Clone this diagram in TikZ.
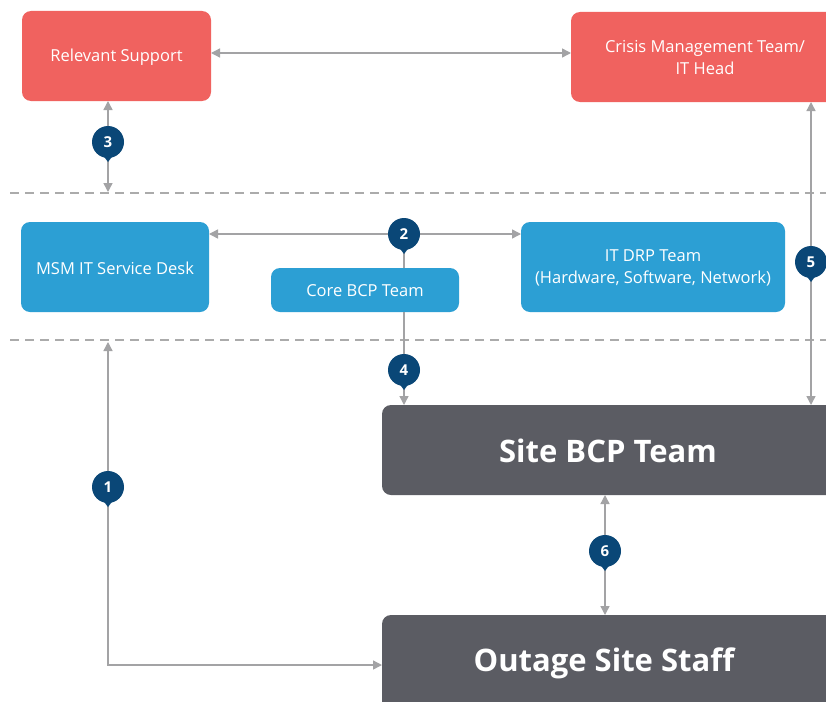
\documentclass[tikz,border=0pt]{standalone}
\usepackage{fontspec}
\setmainfont{Open Sans}
\usetikzlibrary{arrows.meta,calc}
\definecolor{redbox}{HTML}{F0625F}
\definecolor{bluebox}{HTML}{2C9FD4}
\definecolor{graybox}{HTML}{5B5C63}
\definecolor{navy}{HTML}{0A4777}
\definecolor{linegray}{HTML}{A3A3A5}
\definecolor{dashgray}{HTML}{ABABAB}
\tikzset{
  box/.style={rounded corners=9pt, inner sep=0pt, text=white, align=center},
  redb/.style={box, fill=redbox, font=\fontsize{16.5}{22}\selectfont},
  blueb/.style={box, fill=bluebox, font=\fontsize{16.5}{22}\selectfont},
  grayb/.style={box, fill=graybox, font=\bfseries\fontsize{31}{36}\selectfont},
  conn/.style={draw=linegray, line width=1.4pt, -{Triangle[length=9pt,width=9pt]}},
  bconn/.style={conn, {Triangle[length=9pt,width=9pt]}-{Triangle[length=9pt,width=9pt]}},
  plain/.style={draw=linegray, line width=1.4pt},
  sep/.style={draw=dashgray, line width=1.3pt, dash pattern=on 9pt off 6pt},
  pin/.style={circle, fill=navy, minimum size=32pt, inner sep=0pt, text=white, font=\bfseries\fontsize{15}{18}\selectfont}
}
\newcommand{\pinat}[3]{%
  \fill[navy] ($(#1)+(-6,12)$) -- ($(#1)+(0,20)$) -- ($(#1)+(6,12)$) -- cycle;
  \node[pin] (#2) at (#1) {#3};}
\begin{document}
\begin{tikzpicture}[x=1pt,y=-1pt]
\useasboundingbox[fill=white] (0,0) rectangle (826,701);
% separators
\draw[sep] (10,193) -- (826,193);
\draw[sep] (10,340) -- (826,340);
% boxes
\path[redb] (22,11) rectangle (211,101);
\node[redb, fill=none] (rs) at (116.5,57) {Relevant Support};
\coordinate (rsE) at (211,53);
\coordinate (rsS) at (108,101);
\path[redb] (571,12) rectangle (840,102);
\node[redb, fill=none] (cm) at (705,58) {Crisis Management Team/\\IT Head};
\coordinate (cmW) at (571,53);
\coordinate (cmS) at (811,102);
\path[blueb] (21,222) rectangle (209,312);
\node[blueb, fill=none] (msm) at (115,268) {MSM IT Service Desk};
\coordinate (msmE) at (209,234);
\path[blueb] (271,268) rectangle (459,312);
\node[blueb, fill=none] (core) at (365,291) {Core BCP Team};
\coordinate (coreN) at (404,268);
\coordinate (coreS) at (404,312);
\path[blueb] (521,222) rectangle (785,312);
\node[blueb, fill=none] (drp) at (653,268) {IT DRP Team\\(Hardware, Software, Network)};
\coordinate (drpW) at (521,234);
\path[grayb] (382,405) rectangle (840,495);
\node[grayb, fill=none] (site) at (608,451) {Site BCP Team};
\coordinate (siteN4) at (404,405);
\coordinate (siteN5) at (811,405);
\coordinate (siteS) at (605,495);
\path[grayb] (382,615) rectangle (840,712);
\node[grayb, fill=none] (out) at (604,663) {Outage Site Staff};
\coordinate (outN) at (605,615);
\coordinate (outW) at (382,665);
% free ends
\coordinate (sep1) at (108,192);
\coordinate (sep2) at (108,342);
\coordinate (bend) at (108,665);
% connectors
\draw[bconn] (rsE) -- (cmW);
\draw[bconn] (rsS) -- (sep1);
\draw[bconn] (msmE) -- (drpW);
\draw[plain] (404,234) -- (coreN);
\draw[conn] (coreS) -- (siteN4);
\draw[bconn] (cmS) -- (siteN5);
\draw[bconn] (siteS) -- (outN);
\draw[bconn] (sep2) -- (bend) -- (outW);
% pins
\pinat{108,142}{p3}{3}
\pinat{404,234}{p2}{2}
\pinat{404,370}{p4}{4}
\pinat{811,262}{p5}{5}
\pinat{108,487}{p1}{1}
\pinat{605,551}{p6}{6}
\end{tikzpicture}
\end{document}
